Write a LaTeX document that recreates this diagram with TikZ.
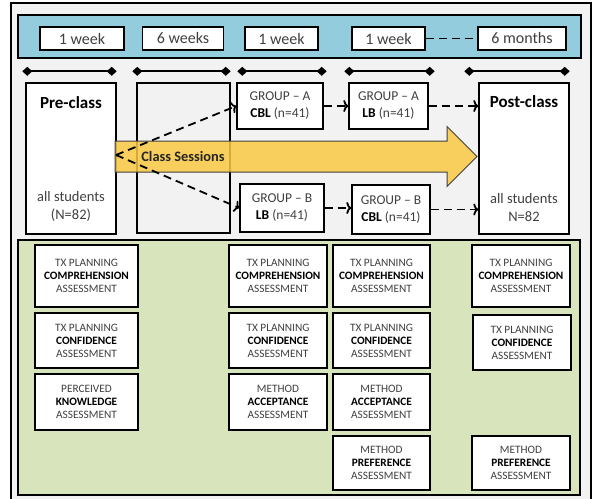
\documentclass[tikz,border=0pt]{standalone}
\usepackage{fontspec}
\setmainfont{Carlito}
\usepackage{tikz}
\usetikzlibrary{arrows.meta}
\definecolor{framegray}{HTML}{F2F2F2}
\definecolor{bandblue}{HTML}{93CDDD}
\definecolor{lightgreen}{HTML}{D8E4BC}
\definecolor{sessyellow}{HTML}{FAC943}
\definecolor{txtgray}{HTML}{404040}
\tikzstyle{timebox} = [draw, line width=1.4pt, fill=white, minimum height=23pt, inner sep=0pt, text=txtgray, font=\fontsize{16}{18}\selectfont]
\tikzstyle{bigbox} = [draw, line width=1.4pt, fill=white, inner sep=0pt]
\tikzstyle{groupbox} = [draw, line width=1.4pt, fill=white, inner sep=0pt, align=center, text=txtgray, font=\fontsize{13.5}{17}\selectfont]
\tikzstyle{assessbox} = [draw, line width=1.4pt, fill=white, inner sep=0pt, align=center, text=txtgray, font=\fontsize{11.3}{13}\selectfont]
\tikzstyle{bar} = [line width=2pt, {Diamond[length=10pt,width=9pt]}-{Diamond[length=10pt,width=9pt]}]
\tikzstyle{arrow} = [line width=1.8pt, dash pattern=on 8pt off 5pt, -{To[length=5pt,width=12pt]}]
\newcommand{\assess}[3]{#1\\\textcolor{black}{\textbf{#2}}\\#3}

\begin{document}
\begin{tikzpicture}[x=1pt, y=-1pt]
    \useasboundingbox (0,0) rectangle (605,498);
    % frame and panels
    \draw[line width=1.4pt, fill=framegray] (11,3) rectangle (591,505);
    \draw[line width=1.4pt, fill=bandblue] (18,15) rectangle (581,58);
    \draw[line width=1.4pt, fill=lightgreen] (18,240) rectangle (580,495);

    % time line
    \node[timebox, minimum width=84pt] (t1) at (82,38.5) {1 week};
    \node[timebox, minimum width=81pt] (t2) at (183,38.5) {6 weeks};
    \node[timebox, minimum width=73pt] (t3) at (281.5,38.5) {1 week};
    \node[timebox, minimum width=73pt] (t4) at (388.5,38.5) {1 week};
    \node[timebox, minimum width=88pt] (t5) at (522,38.5) {6 months};
    \draw[line width=1.8pt, dash pattern=on 8pt off 5pt] (t4) -- (t5);

    % phases
    \node[bigbox, minimum width=90pt, minimum height=151pt] (pre) at (71,158.5) {};
    \node[bigbox, fill=framegray, minimum width=93pt, minimum height=150pt] (six) at (183.5,158) {};
    \node[groupbox, minimum width=86pt, minimum height=46pt] (gac) at (280,106) {GROUP -- A\\\textcolor{black}{\textbf{CBL}} (n=41)};
    \node[groupbox, minimum width=79pt, minimum height=46pt] (gal) at (388.5,106) {GROUP -- A\\\textcolor{black}{\textbf{LB}} (n=41)};
    \node[groupbox, minimum width=84pt, minimum height=48pt] (gbl) at (282,208) {GROUP -- B\\\textcolor{black}{\textbf{LB}} (n=41)};
    \node[groupbox, minimum width=78pt, minimum height=49pt] (gbc) at (391,209.5) {GROUP -- B\\\textcolor{black}{\textbf{CBL}} (n=41)};
    \node[bigbox, minimum width=90pt, minimum height=151pt] (post) at (524,158.5) {};

    \draw[bar] ([xshift=-3pt, yshift=11pt]pre.north west) -- ([yshift=11pt]pre.north east);
    \draw[bar] ([xshift=-4pt, yshift=11pt]six.north west) -- ([yshift=11pt]six.north east);
    \draw[bar] ([xshift=1pt, yshift=11pt]gac.north west) -- ([xshift=3pt, yshift=11pt]gac.north east);
    \draw[bar] ([xshift=-4pt, yshift=11pt]gal.north west) -- ([xshift=6pt, yshift=11pt]gal.north east);
    \draw[bar] ([xshift=-14pt, yshift=11pt]post.north west) -- ([yshift=11pt]post.north east);

    \node[font=\fontsize{17}{19}\selectfont\bfseries] (pretitle) at (71,103) {Pre-class};
    \node[align=center, text=txtgray, font=\fontsize{14.5}{18}\selectfont] (pren) at (71,206) {all students\\(N=82)};
    \node[font=\fontsize{17}{19}\selectfont\bfseries] (posttitle) at (524,102) {Post-class};
    \node[align=center, text=txtgray, font=\fontsize{14.5}{18}\selectfont] (postn) at (524,208) {all students\\N=82};

    % class sessions
    \draw[draw=black!75, line width=1pt, fill=sessyellow, fill opacity=0.85] (115,141) -- (447,141) -- (447,126.5) -- (477,156.5) -- (447,186.5) -- (447,172) -- (115,172) -- cycle;
    \node[font=\fontsize{14.4}{16}\selectfont\bfseries, text=black!85] (sess) at (183,156.5) {Class Sessions};

    \coordinate (split) at (116,155);
    \draw[arrow] (split) -- (gac.west);
    \draw[arrow] (split) -- (gbl.west);
    \draw[arrow] (gac) -- (gal);
    \draw[arrow] (gbl.east) -- (gbc.west |- gbl.east);
    \draw[arrow] (gal.east) -- (post.west |- gal.east);
    \draw[arrow] (gbc.east) -- (post.west |- gbc.east);

    % assessments
    \node[assessbox, minimum width=103pt, minimum height=62pt] (a11) at (86.5,276) {\assess{TX PLANNING}{COMPREHENSION}{ASSESSMENT}};
    \node[assessbox, minimum width=103pt, minimum height=55pt] (a12) at (86.5,340.5) {\assess{TX PLANNING}{CONFIDENCE}{ASSESSMENT}};
    \node[assessbox, minimum width=103pt, minimum height=56pt] (a13) at (86.5,402) {\assess{PERCEIVED}{KNOWLEDGE}{ASSESSMENT}};

    \node[assessbox, minimum width=98pt, minimum height=62pt] (a21) at (278,276) {\assess{TX PLANNING}{COMPREHENSION}{ASSESSMENT}};
    \node[assessbox, minimum width=98pt, minimum height=55pt] (a22) at (278,340.5) {\assess{TX PLANNING}{CONFIDENCE}{ASSESSMENT}};
    \node[assessbox, minimum width=98pt, minimum height=56pt] (a23) at (278,402) {\assess{METHOD}{ACCEPTANCE}{ASSESSMENT}};

    \node[assessbox, minimum width=97pt, minimum height=62pt] (a31) at (381.5,276) {\assess{TX PLANNING}{COMPREHENSION}{ASSESSMENT}};
    \node[assessbox, minimum width=97pt, minimum height=55pt] (a32) at (381.5,340.5) {\assess{TX PLANNING}{CONFIDENCE}{ASSESSMENT}};
    \node[assessbox, minimum width=97pt, minimum height=56pt] (a33) at (381.5,402) {\assess{METHOD}{ACCEPTANCE}{ASSESSMENT}};
    \node[assessbox, minimum width=97pt, minimum height=54pt] (a34) at (381.5,463) {\assess{METHOD}{PREFERENCE}{ASSESSMENT}};

    \node[assessbox, minimum width=98pt, minimum height=62pt] (a41) at (521,276) {\assess{TX PLANNING}{COMPREHENSION}{ASSESSMENT}};
    \node[assessbox, minimum width=98pt, minimum height=55pt] (a42) at (522,342.5) {\assess{TX PLANNING}{CONFIDENCE}{ASSESSMENT}};
    \node[assessbox, minimum width=98pt, minimum height=54pt] (a44) at (521,463) {\assess{METHOD}{PREFERENCE}{ASSESSMENT}};
\end{tikzpicture}
\end{document}
